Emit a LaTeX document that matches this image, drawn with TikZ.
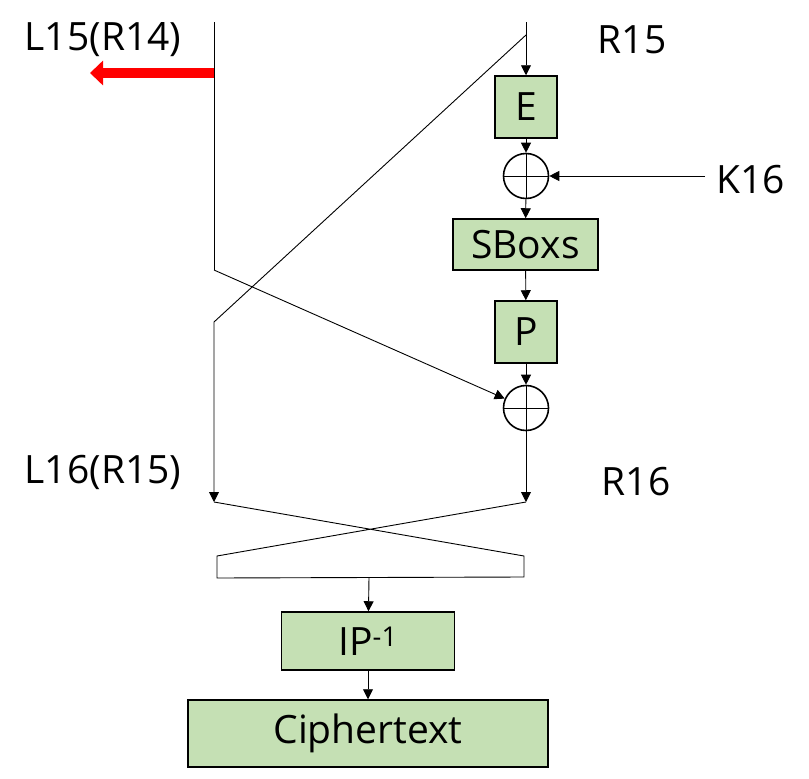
\documentclass[tikz,border=0pt]{standalone}
\usepackage{fontspec}
\setmainfont{Open Sans}
\usetikzlibrary{arrows.meta}
\definecolor{boxgreen}{HTML}{C5E0B4}
\begin{document}
\begin{tikzpicture}[x=1pt,y=-1pt,
  box/.style={draw, line width=1.5pt, fill=boxgreen, inner sep=0pt, font=\fontsize{39}{41}\selectfont},
  lbl/.style={font=\fontsize{39}{41}\selectfont, inner sep=0pt},
  xor/.style={circle, draw, line width=1.6pt, minimum size=45pt, inner sep=0pt,
    path picture={\draw[line width=0.9pt] (path picture bounding box.north) -- (path picture bounding box.south)
      (path picture bounding box.west) -- (path picture bounding box.east);}},
  conn/.style={line width=0.9pt},
  arr/.style={conn, -{Triangle[length=10pt,width=10pt]}}]
\useasboundingbox (0,0) rectangle (809,779);

% labels
\node[lbl] (l15) at (103,40) {L15(R14)};
\node[lbl] (r15) at (632,40) {R15};
\node[lbl] (k16) at (751,180) {K16};
\node[lbl] (l16) at (103,472) {L16(R15)};
\node[lbl] (r16) at (636,482) {R16};

% boxes
\node[box, minimum width=62pt, minimum height=62pt] (E) at (526,107) {E};
\node[xor] (x1) at (526,176) {};
\node[box, minimum width=145pt, minimum height=51pt] (S) at (525.5,244.5) {SBoxs};
\node[box, minimum width=62pt, minimum height=62pt] (P) at (526,332) {P};
\node[xor] (x2) at (526,408) {};
\node[box, minimum width=173pt, minimum height=58pt] (IP) at (368,641) {IP\textsuperscript{-1}};
\node[box, minimum width=360pt, minimum height=67pt] (C) at (368,733.5) {Ciphertext};

% coordinates
\coordinate (Ltop) at (214,22);
\coordinate (Lbend) at (214,270);
\coordinate (Rtop) at (526,22);
\coordinate (Rsplit) at (526,35);
\coordinate (Lbend2) at (214,322);
\coordinate (Lend) at (214,502);
\coordinate (Rend) at (526,502);
\coordinate (Kin) at (705,176);
\coordinate (Rs) at (214,73);
\coordinate (Re) at (90,73);
\coordinate (TL) at (217,556);
\coordinate (TR) at (524,556);
\coordinate (BL) at (217,578);
\coordinate (BR) at (524,577);
\coordinate (Stem) at (369,577.5);

% red arrow
\draw[red, line width=10pt, -{Triangle[length=13pt,width=24pt]}] (Rs) -- (Re);

% connectors
\draw[conn] (Ltop) -- (Lbend);
\draw[arr] (Lbend) -- (x2);
\draw[arr] (Rtop) -- (E);
\draw[arr] (Rsplit) -- (Lbend2) -- (Lend);
\draw[arr] (E) -- (x1);
\draw[arr] (Kin) -- (x1);
\draw[arr] (x1) -- (S);
\draw[arr] (S) -- (P);
\draw[arr] (P) -- (x2);
\draw[arr] (x2) -- (Rend);
\draw[conn] (Lend) -- (TR) -- (BR) -- (BL) -- (TL) -- (Rend);
\draw[arr] (Stem) -- (IP);
\draw[arr] (IP) -- (C);
\end{tikzpicture}
\end{document}
